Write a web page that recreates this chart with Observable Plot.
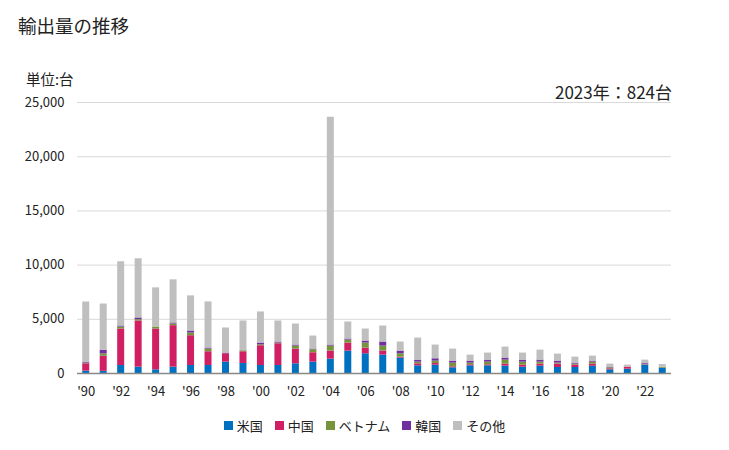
<!DOCTYPE html>
<html><head><meta charset="utf-8">
<script src="https://cdn.jsdelivr.net/npm/d3@7"></script>
<script src="https://cdn.jsdelivr.net/npm/@observablehq/plot@0.6"></script>
<style>
body{margin:0;background:#fff;font-family:"Noto Sans CJK JP","Noto Sans",sans-serif;}
#wrap{position:relative;width:729px;height:450px;overflow:hidden;}
.t{position:absolute;white-space:nowrap;color:#222;}
#legend{position:absolute;top:416px;left:0;width:729px;display:flex;justify-content:center;gap:0;font-size:13px;color:#222;}
#legend span{display:inline-flex;align-items:center;margin:0 6px;}
#legend i{display:inline-block;width:9px;height:9px;margin-right:4px;}
</style></head>
<body><div id="wrap">
<div class="t" style="left:18px;top:12px;font-size:18.5px;">輸出量の推移</div>
<div class="t" style="left:26px;top:68px;font-size:14.5px;">単位:台</div>
<div class="t" id="note" style="right:57px;top:79px;font-size:17px;">2023年：824台</div>
<div id="chart"></div>
<div id="legend"></div>
</div>
<script>
const years = d3.range(1990, 2024);
const seriesNames = ["米国","中国","ベトナム","韓国","その他"];
const colors = ["#0070C0","#D01F63","#77933C","#7030A0","#BFBFBF"];
const us      = [216,200,740,586,340,586,740,740,1049,926,740,740,895,1049,1327,2068,1821,1697,1420,710,772,525,710,710,679,586,679,555,555,679,339,401,772,480];
const china   = [680,1390,3364,4259,3764,3827,2747,1266,772,1080,1821,2006,1358,864,741,740,524,371,92,185,154,92,92,92,185,186,185,309,217,185,93,185,30,10];
const vietnam = [60,220,186,123,186,154,247,247,0,92,93,62,277,278,462,278,463,462,309,154,216,340,155,247,370,277,185,93,92,185,93,0,62,90];
const korea   = [90,340,92,155,0,93,185,92,61,0,154,93,93,62,93,93,185,371,247,185,216,185,185,185,186,185,185,185,93,93,61,0,93,0];
const other   = [5550,4260,5925,5462,3610,3981,3241,4259,2315,2747,2870,1944,1944,1203,21017,1573,1111,1481,833,2037,1265,1111,555,648,1018,648,926,648,555,463,278,186,277,244];
const yTicks = [0,5000,10000,15000,20000,25000];

const cols = [us, china, vietnam, korea, other];
const data = [];
years.forEach((y,i)=>cols.forEach((c,j)=>data.push({year:y, series:seriesNames[j], value:c[i]})));

const chart = Plot.plot({
  width:729, height:450,
  marginTop:102, marginBottom:77, marginLeft:77, marginRight:58,
  style:{fontFamily:'"Noto Sans CJK JP","Noto Sans",sans-serif', fontSize:"13px", color:"#222", background:"transparent"},
  x:{type:"band", domain:years, paddingInner:0.6, paddingOuter:0.3, round:false, label:null},
  y:{domain:[0,25000], label:null},
  color:{domain:seriesNames, range:colors},
  marks:[
    Plot.gridY(yTicks,{stroke:"#d9d9d9", strokeOpacity:1}),
    Plot.axisY(yTicks,{tickSize:0, tickPadding:13, tickFormat:d=>d3.format(",")(d), label:null, fontSize:13}),
    Plot.axisX(years.filter(y=>y%2===0),{tickSize:0, tickPadding:13, tickFormat:d=>"'"+String(d).slice(2), label:null, fontSize:13}),
    Plot.barY(data,{x:"year", y:"value", fill:"series", order:seriesNames}),
    Plot.ruleY([0],{stroke:"#888", strokeWidth:1.5})
  ]
});
chart.style.position="absolute"; chart.style.left="0"; chart.style.top="0";
document.getElementById("chart").appendChild(chart);

const lg = document.getElementById("legend");
seriesNames.forEach((n,i)=>{
  const s=document.createElement("span");
  s.innerHTML=`<i style="background:${colors[i]}"></i>${n}`;
  lg.appendChild(s);
});
</script>
</body></html>
